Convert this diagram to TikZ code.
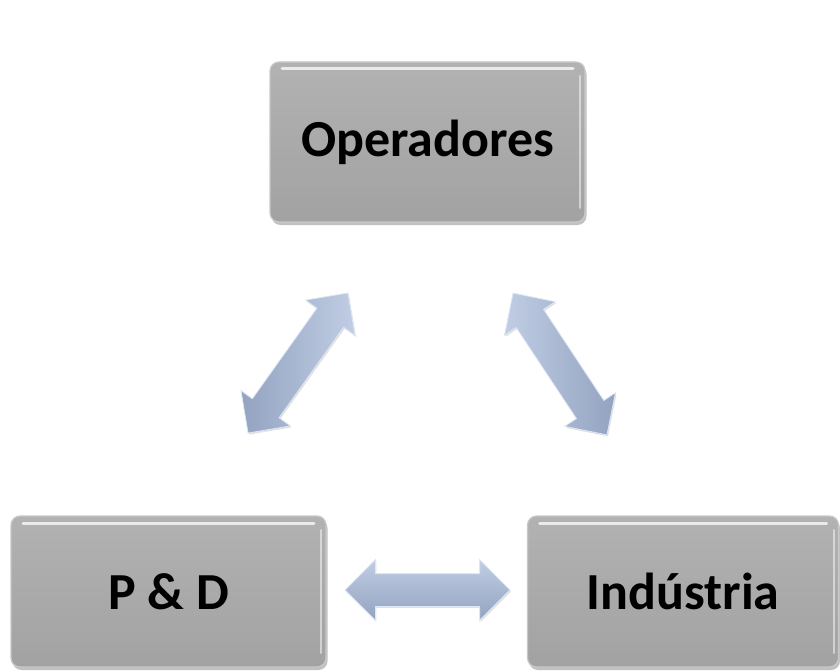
\documentclass[tikz,border=0pt]{standalone}
\usepackage{fontspec}
\setmainfont{Carlito}
\usetikzlibrary{shapes.arrows,shadows}
\definecolor{boxtop}{HTML}{B2B2B2}
\definecolor{boxbot}{HTML}{A2A2A2}
\definecolor{boxedge}{HTML}{C8C8C8}
\definecolor{arrlight}{HTML}{C0CDE4}
\definecolor{arrdark}{HTML}{93A3C0}
\definecolor{arredge}{HTML}{DCE6F5}
\begin{document}
\begin{tikzpicture}[x=1pt,y=-1pt,
  box/.style={draw=boxedge, line width=1.2pt, rounded corners=9pt,
    top color=boxtop, bottom color=boxbot, inner sep=0pt,
    font=\fontsize{52}{60}\selectfont\bfseries,
    drop shadow={shadow xshift=1.5pt, shadow yshift=-3pt, opacity=0.35, fill=black!70},
    path picture={
      \draw[white, line width=3pt, opacity=0.75, line cap=round]
        ([xshift=12pt,yshift=-7pt]path picture bounding box.north west) --
        ([xshift=-12pt,yshift=-7pt]path picture bounding box.north east);
      \draw[white, line width=2pt, opacity=0.5, line cap=round]
        ([xshift=-5pt,yshift=-14pt]path picture bounding box.north east) --
        ([xshift=-5pt,yshift=14pt]path picture bounding box.south east);
    }},
  dblarrow/.style={double arrow, draw=arredge, line width=0.8pt,
    inner xsep=0pt, inner ysep=16pt, double arrow head extend=14pt,
    double arrow tip angle=90, double arrow head indent=0pt,
    drop shadow={shadow xshift=1pt, shadow yshift=-1.5pt, opacity=0.2, fill=black!60}}
]
\useasboundingbox (0,0) rectangle (840,671);

\node[box, minimum width=315pt, minimum height=160pt] (op) at (427.5,142) {Operadores};
\node[box, minimum width=315pt, minimum height=151pt] (pd) at (168.5,591.5) {P \& D};
\node[box, minimum width=311pt, minimum height=151pt] (ind) at (683,591.5) {Indústria};

\node[dblarrow, minimum height=172pt, rotate=54.5,
      left color=arrdark, right color=arrlight] (a1) at (298,363) {};
\node[dblarrow, minimum height=170pt, rotate=123.5,
      left color=arrlight, right color=arrdark] (a2) at (560,364) {};
\node[dblarrow, minimum height=165pt,
      top color=arrlight, bottom color=arrdark] (a3) at (427.5,590) {};
\end{tikzpicture}
\end{document}
